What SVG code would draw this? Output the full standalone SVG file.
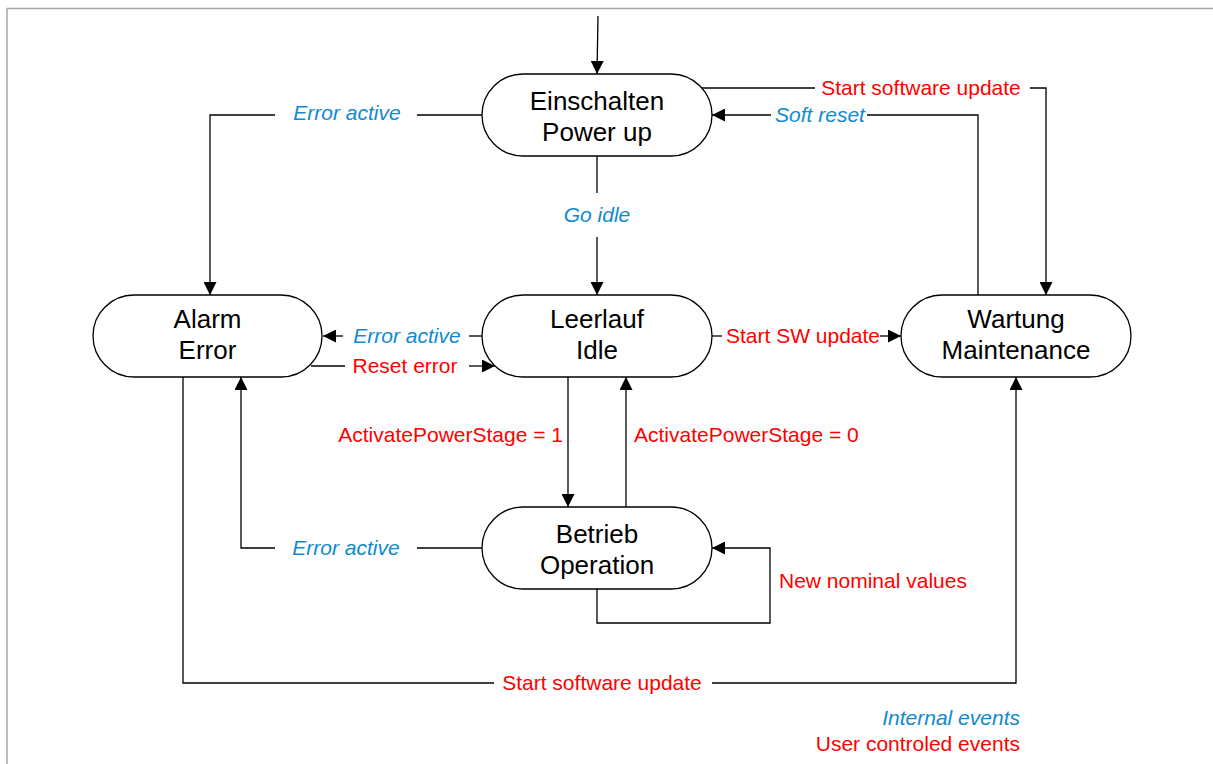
<svg xmlns="http://www.w3.org/2000/svg" width="1213" height="764" viewBox="0 0 1213 764">
<style>
.node rect{fill:#fff;stroke:#000;stroke-width:1.3}
.node text{font-family:"Liberation Sans",Arial,sans-serif;font-size:26px;fill:#000;text-anchor:middle}
.conn path{fill:none;stroke:#000;stroke-width:1.3}
.lbl{font-family:"Liberation Sans",Arial,sans-serif;font-size:21px}
.int{fill:#108ad0;font-style:italic}
.usr{fill:#ff0000}
</style>
<defs>
<marker id="ah" markerUnits="userSpaceOnUse" markerWidth="13" markerHeight="13" refX="13" refY="6.5" orient="auto">
<path d="M0,0 L13,6.5 L0,13 z" fill="#000"/>
</marker>
</defs>
<rect width="1213" height="764" fill="#fff"/>
<path d="M7,764 V8.5 H1213" fill="none" stroke="#a6a6a6" stroke-width="1.5"/>

<g id="connectors" class="conn">
<path d="M598,16 L597,74" marker-end="url(#ah)"/>
<path d="M482,115 H417"/>
<path d="M275,115 H210 V295" marker-end="url(#ah)"/>
<path d="M597,156 V193"/>
<path d="M597,237 V295" marker-end="url(#ah)"/>
<path d="M702,88 H815"/>
<path d="M1030,88 H1046 V295" marker-end="url(#ah)"/>
<path d="M978,295 V115 H867"/>
<path d="M771,115 H712" marker-end="url(#ah)"/>
<path d="M482,336 H469"/>
<path d="M343,336 H323" marker-end="url(#ah)"/>
<path d="M311,366 H345"/>
<path d="M469,366 H495" marker-end="url(#ah)"/>
<path d="M712,336 H722"/>
<path d="M880,336 H901" marker-end="url(#ah)"/>
<path d="M568,377 V507" marker-end="url(#ah)"/>
<path d="M626,507 V377" marker-end="url(#ah)"/>
<path d="M482,548 H417"/>
<path d="M275,548 H241 V377" marker-end="url(#ah)"/>
<path d="M597,589 V623 H770 V548 H712" marker-end="url(#ah)"/>
<path d="M183,377 V683 H494"/>
<path d="M712,683 H1016 V377" marker-end="url(#ah)"/>
</g>

<g id="labels" class="lbl">
<text class="int" x="347" y="120" text-anchor="middle">Error active</text>
<text class="int" x="597" y="222" text-anchor="middle">Go idle</text>
<text class="usr" x="921" y="95" text-anchor="middle">Start software update</text>
<text class="int" x="820" y="122" text-anchor="middle">Soft reset</text>
<text class="int" x="407" y="343" text-anchor="middle">Error active</text>
<text class="usr" x="405" y="373" text-anchor="middle">Reset error</text>
<text class="usr" x="803" y="343" text-anchor="middle">Start SW update</text>
<text class="usr" x="563" y="442" text-anchor="end">ActivatePowerStage = 1</text>
<text class="usr" x="634" y="442">ActivatePowerStage = 0</text>
<text class="int" x="346" y="555" text-anchor="middle">Error active</text>
<text class="usr" x="779" y="588">New nominal values</text>
<text class="usr" x="602" y="690" text-anchor="middle">Start software update</text>
<text class="int" x="1020" y="725" text-anchor="end">Internal events</text>
<text class="usr" x="1020" y="751" text-anchor="end">User controled events</text>
</g>

<g id="einschalten" class="node">
<rect x="482" y="74" width="230" height="82" rx="41"/>
<text x="597" y="110">Einschalten</text>
<text x="597" y="141">Power up</text>
</g>
<g id="alarm" class="node">
<rect x="93" y="295" width="229" height="82" rx="41"/>
<text x="207.5" y="328">Alarm</text>
<text x="207.5" y="359">Error</text>
</g>
<g id="leerlauf" class="node">
<rect x="482" y="295" width="230" height="82" rx="41"/>
<text x="597" y="328">Leerlauf</text>
<text x="597" y="359">Idle</text>
</g>
<g id="wartung" class="node">
<rect x="901" y="295" width="230" height="82" rx="41"/>
<text x="1016" y="328">Wartung</text>
<text x="1016" y="359">Maintenance</text>
</g>
<g id="betrieb" class="node">
<rect x="482" y="507" width="230" height="82" rx="41"/>
<text x="597" y="543">Betrieb</text>
<text x="597" y="574">Operation</text>
</g>
</svg>
